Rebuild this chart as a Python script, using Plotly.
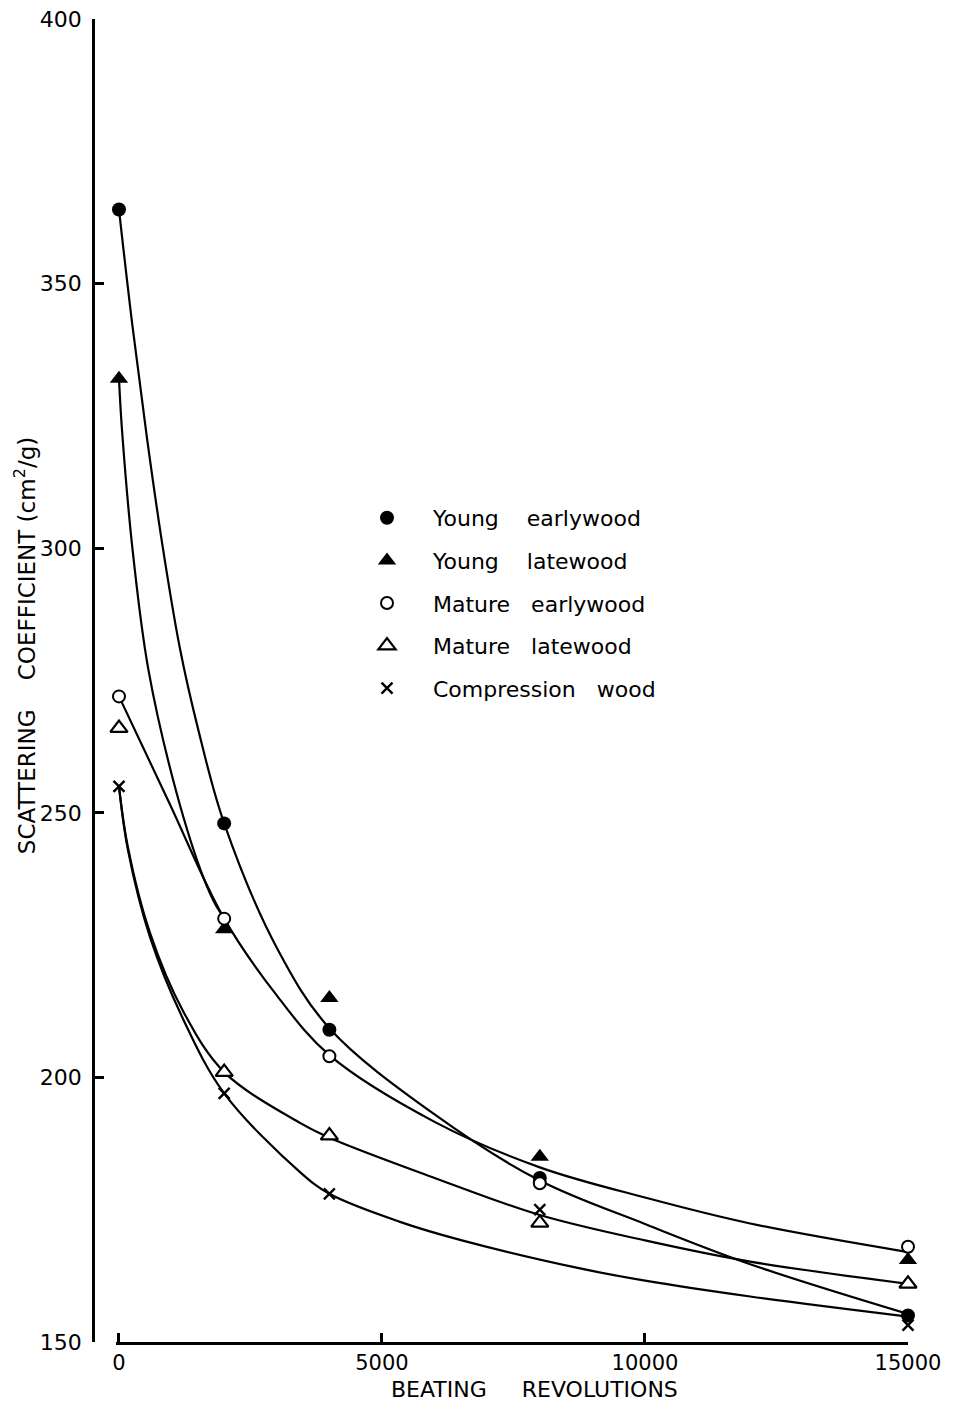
import plotly.graph_objects as go

# ---------------- data ----------------
BEATING = [0, 2000, 4000, 8000, 15000]
TICK_X = [0, 5000, 10000, 15000]
TICK_Y = [150, 200, 250, 300, 350, 400]

SERIES_NAMES = ["Young\u00a0\u00a0\u00a0 earlywood", "Young\u00a0\u00a0\u00a0 latewood",
                "Mature\u00a0\u00a0 earlywood", "Mature\u00a0\u00a0 latewood",
                "Compression\u00a0\u00a0 wood"]

young_early = [364, 248, 209, 181, 155]
young_late = [332, 228, 215, 185, 165.5]
mature_early = [272, 230, 204, 180, 168]
mature_late = [266, 201, 189, 172.5, 161]
compression = [255, 197, 178, 175, 153.2]

# hand-drawn fitted curves
ye_curve_x = [0, 250, 530, 843, 1160, 1500, 2000, 3000, 4000, 6000, 8000, 10000, 12000, 15000]
ye_curve_y = [364, 342.5, 321, 299.5, 281, 266, 248, 224.5, 209.3, 193, 180.5, 172.3, 164.7, 155.3]

yl_curve_x = [0, 60, 266, 560, 1097, 1600, 1860, 2000]
yl_curve_y = [332, 322, 299, 277, 253.7, 237.9, 232.2, 230.2]

me_curve_x = [0, 950, 2000, 3000, 4000, 6000, 8000, 10000, 12000, 15000]
me_curve_y = [272, 252, 230, 215.5, 204.2, 191.6, 183, 177.3, 172.4, 167]

ml_curve_x = [0, 170, 590, 1220, 2000, 3441, 4000, 6000, 8000, 10000, 12000, 15000]
ml_curve_y = [255, 243.5, 227.3, 212.5, 201, 191.4, 188.6, 181, 174, 169.2, 165.2, 161]

cw_curve_x = [0, 170, 590, 1220, 2000, 3441, 4000, 5342, 6483, 8765, 10000, 12000, 15000]
cw_curve_y = [255, 243, 226.5, 211, 197, 182.1, 178, 172.7, 169.3, 163.9, 161.6, 158.6, 154.8]

FONT = "DejaVu Sans"

fig = go.Figure()

curves = [(ye_curve_x, ye_curve_y), (yl_curve_x, yl_curve_y), (me_curve_x, me_curve_y),
          (ml_curve_x, ml_curve_y), (cw_curve_x, cw_curve_y)]
for cx, cy in curves:
    fig.add_trace(go.Scatter(
        x=cx, y=cy, mode="lines",
        line=dict(color="black", width=2.2, shape="spline", smoothing=1.0),
        showlegend=False, hoverinfo="skip"))

marker_specs = [
    (young_early, dict(symbol="circle", size=14, color="black", line=dict(width=0))),
    (young_late, dict(symbol="triangle-up", size=16, color="black", line=dict(width=0))),
    (mature_early, dict(symbol="circle", size=12, color="white", line=dict(width=2, color="black"))),
    (mature_late, dict(symbol="triangle-up", size=15, color="white", line=dict(width=2.2, color="black"))),
    (compression, dict(symbol="x-thin", size=11, color="black", line=dict(width=2.4, color="black"))),
]
for name, (vals, mk) in zip(SERIES_NAMES, marker_specs):
    fig.add_trace(go.Scatter(
        x=BEATING, y=vals, mode="markers", name=name, legendgroup=name,
        marker=mk, cliponaxis=False))

axis_common = dict(
    showline=True, linecolor="black", linewidth=2.6, mirror=False,
    ticks="inside", ticklen=9, tickwidth=2.6, tickcolor="black",
    showgrid=False, zeroline=False, ticklabeloverflow="allow", automargin=False,
)

fig.update_layout(
    width=963, height=1403,
    margin=dict(l=93, r=55, t=19, b=61, autoexpand=False),
    paper_bgcolor="white", plot_bgcolor="white",
    font=dict(family=FONT, color="black"),
    xaxis=dict(domain=[0.028, 1.0], range=[-60, 15000], tickvals=TICK_X,
               ticktext=[str(v) for v in TICK_X], ticklabelstandoff=0,
               tickfont=dict(family=FONT, size=21, color="black"), **axis_common),
    yaxis=dict(range=[150, 400], tickvals=TICK_Y, anchor="free", position=0,
               ticklabelstandoff=6,
               tickfont=dict(family=FONT, size=22, color="black"), **axis_common),
    showlegend=True,
    legend=dict(x=0.3043, xanchor="left", y=0.6387, yanchor="top",
                font=dict(family=FONT, size=22, color="black"),
                bgcolor="rgba(0,0,0,0)", borderwidth=0,
                tracegroupgap=11, itemsizing="trace", itemwidth=82),
    annotations=[
        dict(text="SCATTERING\u00a0\u00a0\u00a0 COEFFICIENT\u00a0(cm<sup>2</sup>/g)",
             xref="paper", yref="paper",
             x=-0.0834, y=0.526, xanchor="center", yanchor="middle", textangle=-90,
             showarrow=False, font=dict(family=FONT, size=23, color="black")),
        dict(text="BEATING\u00a0\u00a0\u00a0\u00a0 REVOLUTIONS", xref="paper", yref="paper",
             x=0.542, y=-0.0356, xanchor="center", yanchor="middle",
             showarrow=False, font=dict(family=FONT, size=22, color="black")),
    ],
)

# remove the default 8 px page margin so the figure fills the window exactly
fig.write_html("out.html", config={"displayModeBar": False},
               post_script="document.body.style.margin='0px';")
